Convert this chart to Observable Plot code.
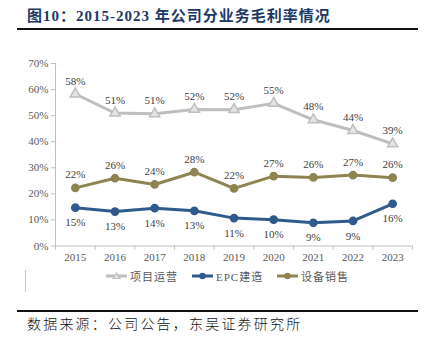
<!DOCTYPE html>
<html><head><meta charset="utf-8">
<script src="https://cdn.jsdelivr.net/npm/d3@7"></script>
<script src="https://cdn.jsdelivr.net/npm/@observablehq/plot@0.6"></script>
<style>
body{margin:0;background:#fff;width:426px;height:344px;position:relative;overflow:hidden;font-family:"Liberation Serif","Noto Sans CJK SC",serif}
#title{position:absolute;left:27px;top:4px;font-size:15px;font-weight:bold;color:#203864;white-space:nowrap;letter-spacing:1px}
.rule{position:absolute;left:17px;width:401px;height:2px;background:#111}
#vline{position:absolute;left:25px;top:45px;width:1px;height:247px;background:#c8c8c8}
#chart{position:absolute;left:0;top:40px}
.leg{position:absolute;top:268px;height:16px;display:flex;align-items:center;font-size:11px;color:#595959;letter-spacing:1px;white-space:nowrap}
.leg svg{margin-right:3px}
#caption{position:absolute;left:27px;top:313px;font-size:14px;color:#111;letter-spacing:2.2px;white-space:nowrap;font-family:"Noto Sans CJK SC",sans-serif;font-weight:300}
</style></head><body>
<div id="title">图10：2015-2023 年公司分业务毛利率情况</div>
<div class="rule" style="top:28px"></div>
<div id="vline"></div>
<div id="chart"></div>
<div id="legend"></div>
<div class="rule" style="top:310px"></div>
<div id="caption">数据来源：公司公告，东吴证券研究所</div>
<script>
const years = [2015, 2016, 2017, 2018, 2019, 2020, 2021, 2022, 2023];
const seriesNames = ["项目运营", "EPC建造", "设备销售"];
const colors = ["#bfbfbf", "#2f5a8c", "#8e8451"];
const opsMargin = [58.3, 51.0, 50.7, 52.4, 52.3, 54.7, 48.4, 44.3, 39.2];
const epcMargin = [14.7, 13.2, 14.5, 13.5, 10.7, 10.1, 8.9, 9.6, 16.2];
const equipMargin = [22.3, 26.0, 23.6, 28.3, 22.1, 26.8, 26.3, 27.2, 26.2];
const opsLabels = ["58%", "51%", "51%", "52%", "52%", "55%", "48%", "44%", "39%"];
const epcLabels = ["15%", "13%", "14%", "13%", "11%", "10%", "9%", "9%", "16%"];
const equipLabels = ["22%", "26%", "24%", "28%", "22%", "27%", "26%", "27%", "26%"];
const yTicks = [0, 10, 20, 30, 40, 50, 60, 70];

const build = (vals, labels, s) => years.map((year, i) => ({year, value: vals[i], label: labels[i], series: s}));
const ops = build(opsMargin, opsLabels, seriesNames[0]);
const epc = build(epcMargin, epcLabels, seriesNames[1]);
const equip = build(equipMargin, equipLabels, seriesNames[2]);

const font = "Liberation Serif, Times New Roman, serif";
const axisColor = "#bfbfbf";
const textColor = "#595959";

const plot = Plot.plot({
  width: 426,
  height: 230,
  marginLeft: 55,
  marginRight: 14,
  marginTop: 23,
  marginBottom: 24.5,
  style: {fontFamily: font, fontSize: "11px", background: "#fff", color: textColor},
  x: {type: "linear", domain: [years[0] - 0.5, years[years.length - 1] + 0.5]},
  y: {domain: [0, 70]},
  marks: [
    Plot.ruleX([years[0] - 0.5], {y1: 0, y2: 70, stroke: axisColor}),
    Plot.ruleY([0], {stroke: axisColor}),
    Plot.axisY({ticks: yTicks, tickFormat: d => d + "%", tickSize: 4, tickPadding: 3, stroke: axisColor, fill: textColor, fontFamily: font, fontSize: 11, label: null}),
    Plot.axisX({ticks: d3.range(years[0] - 0.5, years[years.length - 1] + 1, 1), tickFormat: () => "", tickSize: 4, stroke: axisColor, label: null}),
    Plot.axisX({ticks: years, tickFormat: d => String(d), tickSize: 0, tickPadding: 7, fill: textColor, fontFamily: font, fontSize: 11, label: null}),
    Plot.line(ops, {x: "year", y: "value", stroke: colors[0], strokeWidth: 3}),
    Plot.line(epc, {x: "year", y: "value", stroke: colors[1], strokeWidth: 3}),
    Plot.line(equip, {x: "year", y: "value", stroke: colors[2], strokeWidth: 3}),
    Plot.dot(ops, {x: "year", y: "value", symbol: "triangle", r: 3.8, fill: "#e4e4e4", stroke: colors[0], strokeWidth: 1.5}),
    Plot.dot(epc, {x: "year", y: "value", r: 3.6, fill: colors[1], stroke: colors[1]}),
    Plot.dot(equip, {x: "year", y: "value", r: 3.6, fill: colors[2], stroke: colors[2]}),
    Plot.text(ops, {x: "year", y: "value", text: "label", dy: -13, fill: "#404040", fontFamily: font, fontSize: 11}),
    Plot.text(equip, {x: "year", y: "value", text: "label", dy: -13, fill: "#404040", fontFamily: font, fontSize: 11}),
    Plot.text(epc, {x: "year", y: "value", text: "label", dy: 15, fill: "#404040", fontFamily: font, fontSize: 11})
  ]
});
document.getElementById("chart").appendChild(plot);

// legend
const legendX = [106, 192, 277];
const legend = document.getElementById("legend");
seriesNames.forEach((name, i) => {
  const item = document.createElement("div");
  item.className = "leg";
  item.style.left = legendX[i] + "px";
  const marker = i === 0
    ? `<path d="M10.5,5 L14,10.5 L7,10.5 Z" fill="#e4e4e4" stroke="${colors[0]}" stroke-width="1.2"/>`
    : `<circle cx="10.5" cy="8" r="3.2" fill="${colors[i]}"/>`;
  item.innerHTML = `<svg width="21" height="16"><line x1="0" x2="21" y1="8" y2="8" stroke="${colors[i]}" stroke-width="3"/>${marker}</svg><span>${name}</span>`;
  legend.appendChild(item);
});
</script>
</body></html>
